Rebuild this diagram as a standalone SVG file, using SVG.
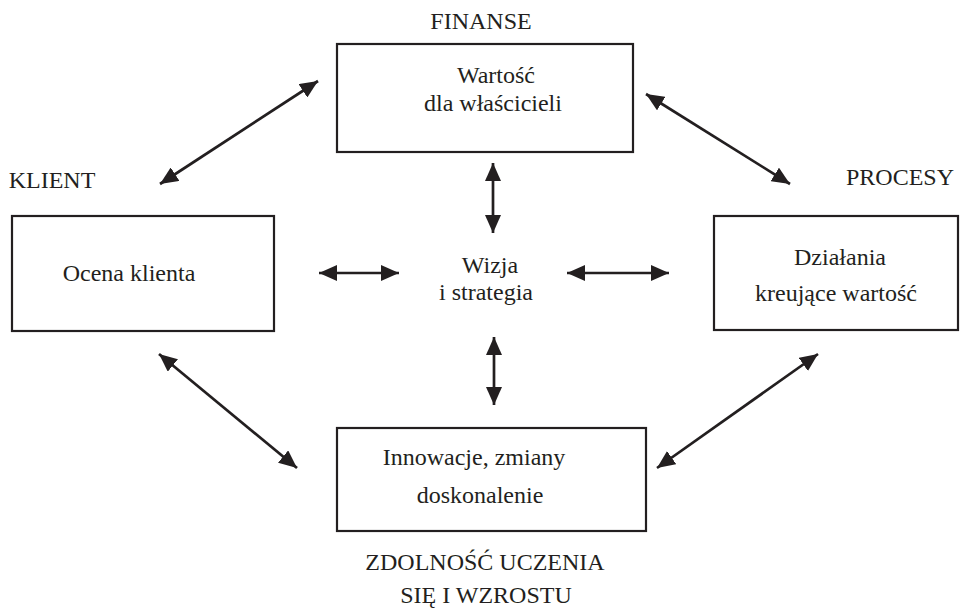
<svg xmlns="http://www.w3.org/2000/svg" width="967" height="609" viewBox="0 0 967 609">
<defs>
<marker id="ah" markerUnits="userSpaceOnUse" markerWidth="19" markerHeight="16" refX="18" refY="8" orient="auto-start-reverse" viewBox="0 0 19 16">
<path d="M0,0 L18,8 L0,16 Z" fill="#231f20"/>
</marker>
<style>
text{font-family:"Liberation Serif","Times New Roman",serif;font-size:24px;fill:#231f20;text-anchor:middle}
.box{fill:#fff;stroke:#231f20;stroke-width:2.2}
.conn line{stroke:#231f20;stroke-width:2.7;marker-start:url(#ah);marker-end:url(#ah)}
</style>
</defs>
<rect width="967" height="609" fill="#fff"/>
<g id="finanse">
<text x="481" y="29">FINANSE</text>
<rect class="box" x="337" y="44" width="296" height="108"/>
<text x="496" y="83">Wartość</text>
<text x="493" y="111">dla właścicieli</text>
</g>
<g id="klient">
<text x="52" y="188">KLIENT</text>
<rect class="box" x="12" y="216" width="262" height="115"/>
<text x="129" y="281">Ocena klienta</text>
</g>
<g id="procesy">
<text x="900" y="185">PROCESY</text>
<rect class="box" x="714" y="216" width="244" height="114"/>
<text x="840" y="265">Działania</text>
<text x="836" y="301">kreujące wartość</text>
</g>
<g id="wizja">
<text x="490" y="273">Wizja</text>
<text x="486" y="300">i strategia</text>
</g>
<g id="rozwoj">
<rect class="box" x="337" y="428" width="309" height="103"/>
<text x="474" y="465">Innowacje, zmiany</text>
<text x="480" y="503">doskonalenie</text>
<text x="485" y="570">ZDOLNOŚĆ UCZENIA</text>
<text x="486" y="603">SIĘ I WZROSTU</text>
</g>
<g class="conn" id="connectors">
<line x1="160" y1="184" x2="318" y2="81"/>
<line x1="646" y1="94" x2="790" y2="184"/>
<line x1="159" y1="354" x2="297" y2="468"/>
<line x1="818" y1="354" x2="657" y2="468"/>
<line x1="319" y1="273" x2="399" y2="273"/>
<line x1="567" y1="273" x2="669" y2="273"/>
<line x1="493" y1="163" x2="493" y2="233"/>
<line x1="494" y1="337" x2="494" y2="405"/>
</g>
</svg>
